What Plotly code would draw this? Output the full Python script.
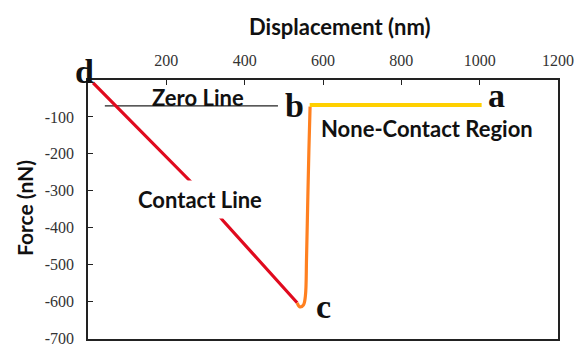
import plotly.graph_objects as go

# Data
contact_x = [13, 140, 265, 345, 440, 534]
contact_y = [-8, -143, -278, -381, -492, -603]

snap_x = [534, 541, 550, 555, 558, 561, 564, 567]
snap_y = [-603, -614, -609, -585, -480, -330, -190, -72]

noncontact_x = [566, 1005]
noncontact_y = [-68, -68]

zero_x = [43, 485]
zero_y = [-70, -70]

x_ticks = [200, 400, 600, 800, 1000, 1200]
x_labels = ["200", "400", "600", "800", "1000", "1200"]
y_ticks = [-100, -200, -300, -400, -500, -600, -700]
y_labels = ["-100", "-200", "-300", "-400", "-500", "-600", "-700"]

fig = go.Figure()
fig.add_trace(go.Scatter(x=zero_x, y=zero_y, mode="lines",
                         line=dict(color="#222222", width=1.3), hoverinfo="skip"))
fig.add_trace(go.Scatter(x=contact_x, y=contact_y, mode="lines",
                         line=dict(color="#e00a1e", width=3.2)))
fig.add_trace(go.Scatter(x=snap_x, y=snap_y, mode="lines", line_shape="spline",
                         line=dict(color="#ff8020", width=3.2)))
fig.add_trace(go.Scatter(x=noncontact_x, y=noncontact_y, mode="lines",
                         line=dict(color="#ffd000", width=4)))

sans = "Lato"
serif = "Liberation Serif"
sfont = dict(family=sans, size=22, color="#111")
ann = []
ann.append(dict(x=643, y=1.208, xref="x", yref="paper", text="<b>Displacement (nm)</b>",
                xanchor="center", yanchor="middle", showarrow=False, font=sfont))
ann.append(dict(x=-0.134, y=0.506, xref="paper", yref="paper", text="<b>Force (nN)</b>",
                xanchor="center", yanchor="middle",
                textangle=-90, showarrow=False, font=dict(family=sans, size=21, color="#111")))
ann.append(dict(x=281, y=-46, text="<b>Zero Line</b>", showarrow=False,
                xanchor="center", yanchor="middle", font=sfont))
ann.append(dict(x=590, y=-130, text="<b>None-Contact Region</b>", showarrow=False,
                xanchor="left", yanchor="middle", font=sfont))
ann.append(dict(x=286, y=-324, text="<b>Contact Line</b>", showarrow=False,
                xanchor="center", yanchor="middle",
                bgcolor="white", borderpad=5, font=sfont))
lfont = dict(family=serif, size=34, color="#111")
ann.append(dict(x=-0.0085, y=1.031, xref="paper", yref="paper", text="<b>d</b>",
                xanchor="center", yanchor="middle", showarrow=False, font=lfont))
for t, x, y in [("b", 526, -68), ("a", 1044, -43), ("c", 600, -614)]:
    ann.append(dict(x=x, y=y, text="<b>%s</b>" % t, showarrow=False,
                    xanchor="center", yanchor="middle", font=lfont))

fig.update_layout(
    width=575, height=344,
    margin=dict(l=88, r=17, t=80, b=5, autoexpand=False),
    paper_bgcolor="white", plot_bgcolor="white",
    showlegend=False,
    annotations=ann,
    xaxis=dict(range=[0, 1200], side="top", tickvals=x_ticks, ticktext=x_labels,
               ticks="inside", ticklen=5, tickcolor="#222", showgrid=False, zeroline=False,
               showline=True, linecolor="#222", linewidth=1.5, mirror=True,
               ticklabeloverflow="allow", automargin=False,
               tickfont=dict(family=serif, size=16, color="#333"), ticklabelstandoff=6),
    yaxis=dict(range=[-701, 0], tickvals=y_ticks, ticktext=y_labels, ticks="inside",
               ticklen=5, tickcolor="#222", showgrid=False, zeroline=False,
               showline=True, linecolor="#222", linewidth=1.5, mirror=True,
               ticklabeloverflow="allow", automargin=False,
               tickfont=dict(family=serif, size=16, color="#333"), ticklabelstandoff=9),
)
fig.write_html("out.html")
